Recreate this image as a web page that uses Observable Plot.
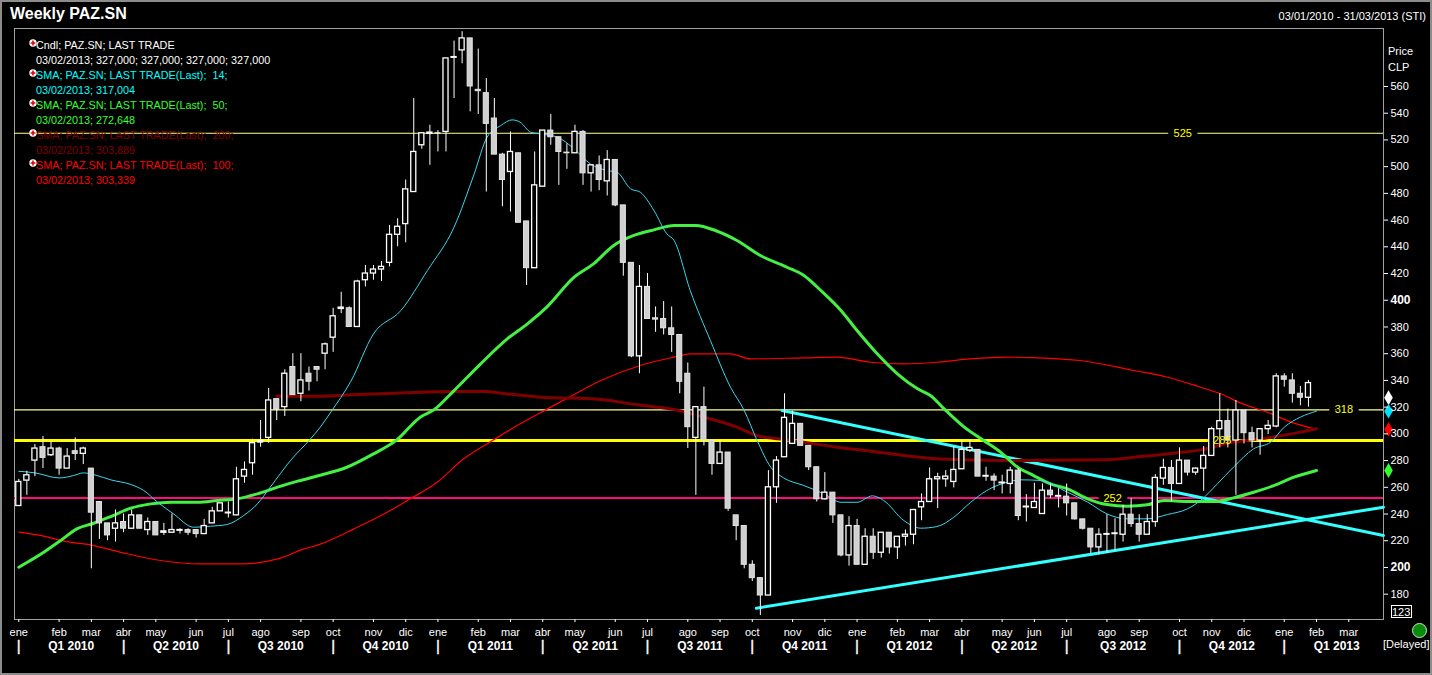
<!DOCTYPE html>
<html>
<head>
<meta charset="utf-8">
<script src="https://cdn.jsdelivr.net/npm/d3@7"></script>
<script src="https://cdn.jsdelivr.net/npm/@observablehq/plot@0.6"></script>
<style>
  body { margin: 0; background: #000; }
  #wrap { position: relative; width: 1432px; height: 675px; background: #000; overflow: hidden;
          font-family: "Liberation Sans", Arial, sans-serif; color: #fff; }
  #chart { position: absolute; left: 0; top: 0; }
  .t { position: absolute; white-space: pre; font-size: 11px; line-height: 15px; }
  .lg { font-size: 10.8px; }
  #border { position: absolute; left: 0; top: 0; width: 1432px; height: 675px; box-sizing: border-box;
            border: 2px solid #8c8c8c; pointer-events: none; }
</style>
</head>
<body>
<div id="wrap">
  <div id="chart"></div>
  <div id="legend"></div>
  <div class="t" style="left:10px;top:4px;font-size:16px;font-weight:bold;line-height:20px">Weekly PAZ.SN</div>
  <div class="t" style="right:6px;top:9px">03/01/2010 - 31/03/2013 (STI)</div>
  <div class="t" style="left:1388px;top:44px">Price</div>
  <div class="t" style="left:1388px;top:60px">CLP</div>
  <div class="t" style="left:1391px;top:605px;width:21px;height:13px;line-height:13px;border:1px solid #fff;text-align:right;box-sizing:border-box;padding-right:1px">123</div>
  <div style="position:absolute;left:1412px;top:623px;width:15px;height:15px;border-radius:50%;background:#0b8a0b;border:1px solid #c8e8c8;box-sizing:border-box"></div>
  <div class="t" style="left:1383px;top:637px">[Delayed]</div>
  <div id="border"></div>
</div>
<script>
// weekly candles, one per week starting Sunday 03/01/2010
const opens = [
  246,265,280,290,284,289,274,287,285,274,
  249,233,229,234,229,239,228,234,226,226,
  227.5,228,228,225,233,242,240.5,239,268,278,
  293.5,297,326,320,350,330,345,350,360,372,
  393.5,394,380,415,420,423,428,449,457,481,
  516,524.5,525,526,581.5,587,596,557.5,555,536,
  509,496,510,459,424,485,527,522,510.5,510,
  526,495,501,489,505,471,428,358,410,386.5,
  386,379,374,345,297,320,295,277.5,286,239,
  231,202,192,179,260,282.5,292.5,307.5,291,275,
  251,256,239,209,231,202,223,211,226,215,
  223,224.5,245,249,266,266,264,273.5,287.5,288,
  268,268,263,262.5,272.5,245,244.5,240,257.5,253,
  253,248,236,229,215,224.5,225,224.5,239.5,232.5,
  224.5,234,266.5,274.5,262.5,280,271,274,283.5,303.5,
  309.5,295,317.5,300.5,295,303.5,305.5,343,340,330,
  327,327
];
const highs = [
  266,272,292,298,294,290,289,297,290,274,
  249,233,243,240,243,239,237,234,233,240,
  229,229,228,236,245,248,249,275,279,296,
  310,334,326,348,360,360,350,350,368,394,
  406,395,415,426,426,429,456,461,490,551,
  525,531,527,581,594,601,596,588,566,551,
  510,526,510,459,511,527,539,522,517,531,
  527,501,508,512,505,471,428,426,420,395,
  399,395,374,353,320,335,295,295,286,239,
  231,205,192,272.5,283,330,317,307.5,291,275,
  271,256,239,238,236,229,229,226,226,223,
  228,243,255,274.5,270.5,272.5,290.5,295,295,288,
  275,270,269,275,274,254.5,263,262.5,262.5,259,
  262.5,248,236,229,229,239.5,236.5,246.5,251.5,239.5,
  239.5,269.5,281,280,289.5,280,274.5,290.5,305,330,
  318.5,325,317.5,305,303.5,310,345,345,345,335.5,
  340,327
];
const lows = [
  246,254,268,274,283,269,274,280,277,199,
  221,220,219,226,229,229,224,224,224,226,
  225,224,222,225,233,242,237,239,263,269,
  290,293,310,313,329,324,332,339,348,361,
  390,380,380,410,415,414,425,440,443,481,
  513,501,511,511,551,577,541,539,481,509,
  470,466,458,411,424,485,516,486,498,510,
  486,481,482,478,470,418,357,345,386,376,
  374,361,330,289,254,291,269,277.5,242,220,
  199,189.5,164,179,248,282.5,292.5,291,272.5,249,
  250.5,233,208,201,202,202,206,207,210,206,
  216,217,235,249,244,260,259.5,273.5,286,268,
  264.5,257.5,255,255,235,234,244.5,240,251.5,244.5,
  238.5,235.5,228,210.5,209.5,210.5,212.5,219,230,219,
  224.5,230,261.5,249,262.5,268.5,269,257,283.5,289.5,
  289.5,254,292.5,289.5,284,299.5,304.5,335,323,321,
  320,327
];
const closes = [
  264,269,289,282,289,274,283,285,289,241,
  233,224,233,229,239,229,234,224,227,228,
  228,226,225,231,242,248,241,266,273,293,
  294.5,325,318,345,329,340,339,348,367,388,
  394.5,380,414,420,423,425,449,455,483,511,
  525,525.5,524.5,581,582,596,560,556.5,532,509,
  490,511,458,424,486,527,522,511,510,526,
  495,501,490,505,471,428,358,410,386,385.5,
  379,374,339,305,320,295,277.5,286,244,231,
  202,192,179,260,280,312,307.5,291,275,251,
  256,239,209,231,202,223,211,226,215,223,
  224.5,243,249,266,267.5,268,273,288,289.5,268,
  268.5,265,263.5,272.5,238.5,245.5,249,257.5,254,253.5,
  248,236,229,215,224.5,225,225.5,239.5,232.5,224.5,
  234,267,274.5,262.5,280,271,274,283.5,303.5,309.5,
  295,317.5,300.5,295,303.5,306,343,340.5,330,327,
  338,327
];

// moving averages: [week, value]
const sma14 = [[0,272],[2,270.8],[5,267],[6.8,268.8],[8,270.8],[9.7,268.8],[11.4,265.6],[13.9,262.1],[15.5,257.6],[17.2,248.9],[19.2,240.1],[21.7,230.1],[23.8,230.9],[25.8,232.1],[27.9,238.9],[29.6,247.6],[31.2,260.1],[33.7,280],[36.2,296.3],[37.4,305],[38.7,316.2],[41.2,339.4],[44,374.8],[47.4,392.3],[50.7,422.3],[54,454.7],[56.5,494.6],[58.1,522.1],[59.8,530.8],[61.2,535],[62.2,533.3],[63.5,525.8],[64.7,524.5],[66.8,522.1],[68.9,513.3],[70.9,502.1],[73,497.1],[74.2,495.9],[75.9,483.4],[77.1,480.9],[78.8,467.2],[80.4,449.7],[81.3,444.7],[83.3,407.3],[85.8,369.9],[88.3,334.9],[90,317.5],[91.6,295],[93.3,275],[94.9,267],[97.4,261.3],[99.9,255.1],[102,248.8],[104,248.8],[105.9,253.6],[107.3,250.1],[109.8,235.1],[111.9,229.4],[113.9,230.6],[116,237.6],[118.1,248.8],[120.1,257.6],[122.6,263.8],[124.3,265.6],[126.8,265.1],[130.1,256.3],[132.6,248.9],[135,240.1],[137.5,236.4],[140,236.4],[142.5,239.6],[145,243.9],[146.6,250.1],[148.7,262.6],[150.7,275.1],[153.2,288.8],[155.3,293.8],[157,305],[159,312.5],[161,317]];
const sma50 = [[0,200.2],[3.1,211.4],[5.2,220.2],[7.2,228.9],[9.3,233.1],[11.4,238.1],[13.9,244.4],[16.4,247.6],[18.9,248.9],[22.2,248.9],[24.6,250.1],[27.1,251.4],[29.6,255.1],[32.1,260.1],[34.6,264.6],[37.4,269],[40.7,275],[44,285],[46.9,295.5],[49.8,312.5],[51.5,318],[54,332.4],[57.3,352.4],[60.6,371.1],[63.1,382.3],[65.5,394.8],[68.9,417.3],[71.3,427.2],[73.8,441],[76.3,448.5],[78.8,452.7],[81.3,455.9],[84,456],[86.5,452],[89.1,444.7],[92,433.5],[95.3,424.7],[97.4,418.5],[99.5,407.3],[102,392.3],[104,377.3],[106.5,359.9],[109,344.9],[111.5,333.7],[113.1,328.7],[114.8,318.7],[117.3,305],[119.7,295],[121.8,286.3],[123.9,275.1],[125.9,268.8],[128,262.6],[130.1,258.8],[132.6,251.4],[135,247.1],[137.5,245.9],[140,246.9],[142.1,250.1],[145,249.4],[148.3,249.4],[150.7,252.1],[153.2,256.3],[155.7,261.3],[158.2,267.6],[161,272.6]];
const sma200 = [[32,328.2],[37.4,328.2],[41.2,329.2],[44,329.9],[48,330.8],[54,331.7],[57.7,331.7],[60.6,329.9],[63.9,327.9],[66,327],[69.7,326.7],[73.4,324.9],[75.1,323.2],[79.2,320],[81.3,318.2],[85,312.5],[89.1,305],[91.6,298.7],[94.1,296.3],[97.4,293.8],[101.5,290],[105.7,287],[109.8,283.8],[113.9,281.3],[118.1,280.5],[122.6,280],[135,280.6],[138.3,282.5],[142.5,285],[146.6,288],[150.7,293.8],[154.9,297],[159,301.3],[161,303.9]];
const sma100 = [[0,226.4],[3.1,223.4],[5.6,219.7],[9.3,216.4],[13.1,210.7],[17.6,205.2],[22.6,202.7],[27.9,202.7],[32.1,206.4],[35.4,213.9],[37.4,217.5],[41.6,228.9],[45.7,241.3],[48.2,250.1],[51.9,263.8],[55.2,281.3],[58.9,295.5],[62.2,307.5],[65.6,318.7],[68.9,329.5],[72.2,339.9],[77.1,351.2],[81.3,357.4],[83.3,359.9],[88.3,359.9],[90.8,356.1],[97.4,356.9],[101.5,357.4],[105.7,353.6],[109.8,352.4],[113.9,353.6],[118.1,356.1],[122.6,357.4],[126,357],[131.7,354.9],[138.3,347.4],[142.5,342.4],[146.6,334.9],[149.1,330],[151.6,323],[154.9,316.2],[158.2,308],[161,303.3]];

// trend lines and horizontal levels
const trendUp = [[91.5,169.5],[169.3,245.1]];
const trendDown = [[94.7,317.5],[169.3,223.9]];
const levelValues = [525, 318, 295, 252];
const levelLabels = ["525", "318", "285", "252"];
const levelLabelWeeks = [144.4, 164.4, 149.3, 135.7];

// last values shown as diamonds on the price axis
const lastValues = [327, 317, 303.3, 272.6];

const priceTicks = [180,220,240,260,280,300,320,340,360,380,420,440,460,480,500,520,540,560];
const boldTicks = [200, 400];
const monthNames = ["ene","feb","mar","abr","may","jun","jul","ago","sep","oct","nov","dic"];
const quarterNames = ["Q1 2010","Q2 2010","Q3 2010","Q4 2010","Q1 2011","Q2 2011","Q3 2011","Q4 2011","Q1 2012","Q2 2012","Q3 2012","Q4 2012","Q1 2013"];

const legendRows = [
  ["Cndl; PAZ.SN; LAST TRADE", "03/02/2013; 327,000; 327,000; 327,000; 327,000", "#ffffff"],
  ["SMA; PAZ.SN; LAST TRADE(Last);  14;", "03/02/2013; 317,004", "#00ffff"],
  ["SMA; PAZ.SN; LAST TRADE(Last);  50;", "03/02/2013; 272,648", "#33ff33"],
  ["SMA; PAZ.SN; LAST TRADE(Last);  200;", "03/02/2013; 303,889", "#800000"],
  ["SMA; PAZ.SN; LAST TRADE(Last);  100;", "03/02/2013; 303,339", "#ff0000"]
];

const DAY = 864e5;
const firstWeek = Date.UTC(2010, 0, 3);
const weekDate = w => new Date(firstWeek + w * 7 * DAY);
const toPts = arr => arr.map(([w, v]) => ({date: weekDate(w), value: v}));

const candles = opens.map((o, i) => ({date: weekDate(i), open: o, high: highs[i], low: lows[i], close: closes[i]}));
const upCandles = candles.filter(d => d.close >= d.open);
const downCandles = candles.filter(d => d.close < d.open);

const xStart = weekDate(-0.533), xEnd = weekDate(169.31);

const weekRange = d3.range(-1, 171).map(weekDate);
const monthStarts = weekRange.filter((d, k) => k > 0 && d.getUTCMonth() !== weekRange[k - 1].getUTCMonth());
const monthTicks = monthStarts.filter(d => d <= xEnd);
const quarterStarts = monthStarts.filter(d => d.getUTCMonth() % 3 === 0);
const quarters = quarterNames.map((q, k) => ({name: q, date: new Date((+quarterStarts[k] + +quarterStarts[k + 1]) / 2)}));
const quarterSeps = quarterStarts.slice(0, quarterNames.length);

const levels = levelValues.map((v, k) => ({value: v, label: levelLabels[k], date: weekDate(levelLabelWeeks[k])}));
const levelColors = ["#ffff90", "#ffff90", "#ffff00", "#ff0a7a"];
const levelWidths = [1.2, 1.2, 3, 2];

const body = o => ({x1: d => new Date(+d.date - 2.2 * DAY), x2: d => new Date(+d.date + 2.2 * DAY), y1: "open", y2: "close", ...o});

const chart = Plot.plot({
  width: 1432,
  height: 675,
  marginLeft: 14,
  marginRight: 49,
  marginTop: 28,
  marginBottom: 56,
  style: {background: "#000", color: "#fff", fontFamily: "Liberation Sans, Arial, sans-serif", fontSize: "11px", overflow: "visible"},
  x: {type: "utc", domain: [xStart, xEnd]},
  y: {domain: [161.05, 603.4]},
  marks: [
    Plot.frame({stroke: "#a0a0a0"}),
    ...levels.map((l, k) => Plot.ruleY([l.value], {stroke: levelColors[k], strokeWidth: levelWidths[k]})),
    Plot.text(levels, {x: "date", y: "value", text: "label", fill: "#000", stroke: "#000", strokeWidth: 12, fontSize: 11}),
    Plot.line(toPts(trendUp), {x: "date", y: "value", stroke: "#33ffff", strokeWidth: 3}),
    Plot.line(toPts(trendDown), {x: "date", y: "value", stroke: "#33ffff", strokeWidth: 3}),
    Plot.line(toPts(sma100), {x: "date", y: "value", stroke: "#ff0000", strokeWidth: 1.2, curve: "monotone-x"}),
    Plot.line(toPts(sma200), {x: "date", y: "value", stroke: "#800000", strokeWidth: 3, curve: "monotone-x"}),
    Plot.line(toPts(sma50), {x: "date", y: "value", stroke: "#44f044", strokeWidth: 3, curve: "monotone-x"}),
    Plot.line(toPts(sma14), {x: "date", y: "value", stroke: "#38d8f0", strokeWidth: 1, curve: "monotone-x"}),
    Plot.ruleX(candles, {x: "date", y1: "low", y2: "high", stroke: "#fff", strokeWidth: 1}),
    Plot.rect(upCandles, body({fill: "#000", stroke: "#fff", strokeWidth: 1.3})),
    Plot.rect(downCandles, body({fill: "#d0d0d0", stroke: "#e6e6e6", strokeWidth: 1})),
    Plot.text(levels, {x: "date", y: "value", text: "label", fill: "#ffff00", fontSize: 11}),
    Plot.dot(lastValues, {x: () => weekDate(161), y: d => d, dx: 72, symbol: "diamond", r: 4.5,
      fill: (d, i) => ["#ffffff", "#00e0ff", "#ff0000", "#33ff33"][i], stroke: "none"}),
    Plot.axisY({anchor: "right", ticks: priceTicks, tickSize: 4, tickPadding: 3, label: null, fontSize: 11}),
    Plot.axisY({anchor: "right", ticks: boldTicks, tickSize: 4, tickPadding: 3, label: null, fontSize: 12, fontWeight: "bold"}),
    Plot.axisX({ticks: monthTicks, tickFormat: d => monthNames[d.getUTCMonth()], tickSize: 3, tickPadding: 6, label: null, fontSize: 11}),
    Plot.text(quarters, {x: "date", text: "name", frameAnchor: "bottom", lineAnchor: "middle", dy: 27, fill: "#fff", fontSize: 12, fontWeight: "bold"}),
    Plot.text(quarterSeps, {x: d => d, text: () => "|", frameAnchor: "bottom", lineAnchor: "middle", dy: 27, fill: "#fff", stroke: "#fff", strokeWidth: 0.4, fontSize: 15})
  ]
});
document.getElementById("chart").appendChild(chart);

const legend = document.getElementById("legend");
legendRows.forEach(([line1, line2, color], k) => {
  const top = 37.5 + 30 * k;
  legend.insertAdjacentHTML("beforeend",
    `<svg style="position:absolute;left:29px;top:${top + 1}px" width="8" height="8"><circle cx="4" cy="4" r="3.7" fill="#fff"/><path d="M4 1.6v4.8M1.6 4h4.8" stroke="#e00000" stroke-width="1.6"/></svg>` +
    `<div class="t lg" style="left:36px;top:${top}px;color:${color}">${line1}</div>` +
    `<div class="t lg" style="left:36px;top:${top + 15}px;color:${color}">${line2}</div>`);
});
</script>
</body>
</html>
